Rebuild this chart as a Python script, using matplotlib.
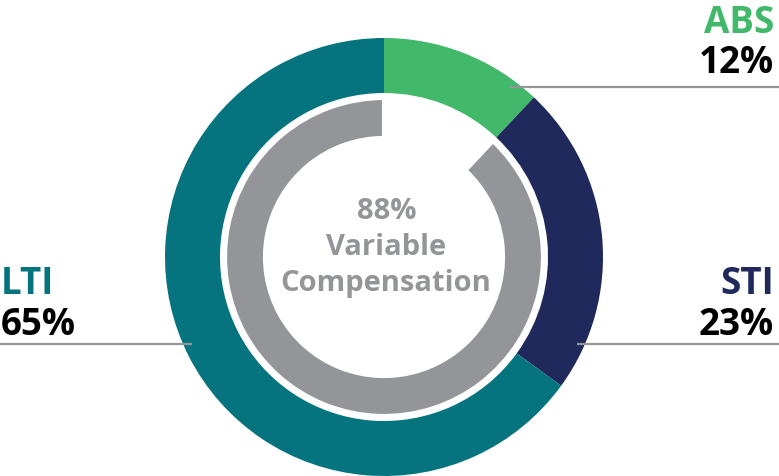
import matplotlib.pyplot as plt

# data
labels = ["ABS", "STI", "LTI"]
values = [12, 23, 65]
variable_pct = 88
center_title = "Variable\nCompensation"

colors = ["#41b86a", "#1f295b", "#05747f"]
grey = "#939598"

W, H = 779, 477
fig = plt.figure(figsize=(W / 100, H / 100), dpi=100)
ax = fig.add_axes([0, 0, 1, 1])

cx, cy = 384, H - 258

# outer ring
ax.pie(values, colors=colors, startangle=90, counterclock=False,
       radius=219, center=(cx, cy),
       wedgeprops=dict(width=55, linewidth=0))

# inner ring: variable part only, first wedge hidden
inner, _ = ax.pie([100 - variable_pct, variable_pct], colors=["none", grey],
                  startangle=90, counterclock=False,
                  radius=159, center=(cx, cy),
                  wedgeprops=dict(width=40, linewidth=3, edgecolor="white"))
inner[0].set_edgecolor("none")

ax.set_xlim(0, W)
ax.set_ylim(0, H)
ax.set_aspect("equal")
ax.axis("off")

# leader lines
ax.plot([509, W], [H - 88, H - 88], color=grey, lw=1.6, solid_capstyle="butt")
ax.plot([577, W], [H - 345, H - 345], color=grey, lw=1.6, solid_capstyle="butt")
ax.plot([0, 192], [H - 345, H - 345], color=grey, lw=1.6, solid_capstyle="butt")

font = ["Open Sans", "DejaVu Sans"]
fs = 26.5

ax.text(774, H - 33, labels[0], color=colors[0], fontsize=fs, fontweight="bold",
        family=font, ha="right", va="baseline")
ax.text(774, H - 73, f"{values[0]}%", color="black", fontsize=fs, fontweight="bold",
        family=font, ha="right", va="baseline")
ax.text(774, H - 294, labels[1], color=colors[1], fontsize=fs, fontweight="bold",
        family=font, ha="right", va="baseline")
ax.text(774, H - 335, f"{values[1]}%", color="black", fontsize=fs, fontweight="bold",
        family=font, ha="right", va="baseline")
ax.text(1, H - 294, labels[2], color=colors[2], fontsize=fs, fontweight="bold",
        family=font, ha="left", va="baseline")
ax.text(1, H - 335, f"{values[2]}%", color="black", fontsize=fs, fontweight="bold",
        family=font, ha="left", va="baseline")

# center text
cfs = 21
ax.text(cx + 3, H - 219, f"{variable_pct}%", color=grey, fontsize=cfs, fontweight="bold",
        family=font, ha="center", va="baseline")
ax.text(cx + 2, H - 255, center_title.split("\n")[0], color=grey, fontsize=cfs,
        fontweight="bold", family=font, ha="center", va="baseline")
ax.text(cx + 2, H - 291, center_title.split("\n")[1], color=grey, fontsize=cfs,
        fontweight="bold", family=font, ha="center", va="baseline")

fig.savefig("out.png", dpi=100)
